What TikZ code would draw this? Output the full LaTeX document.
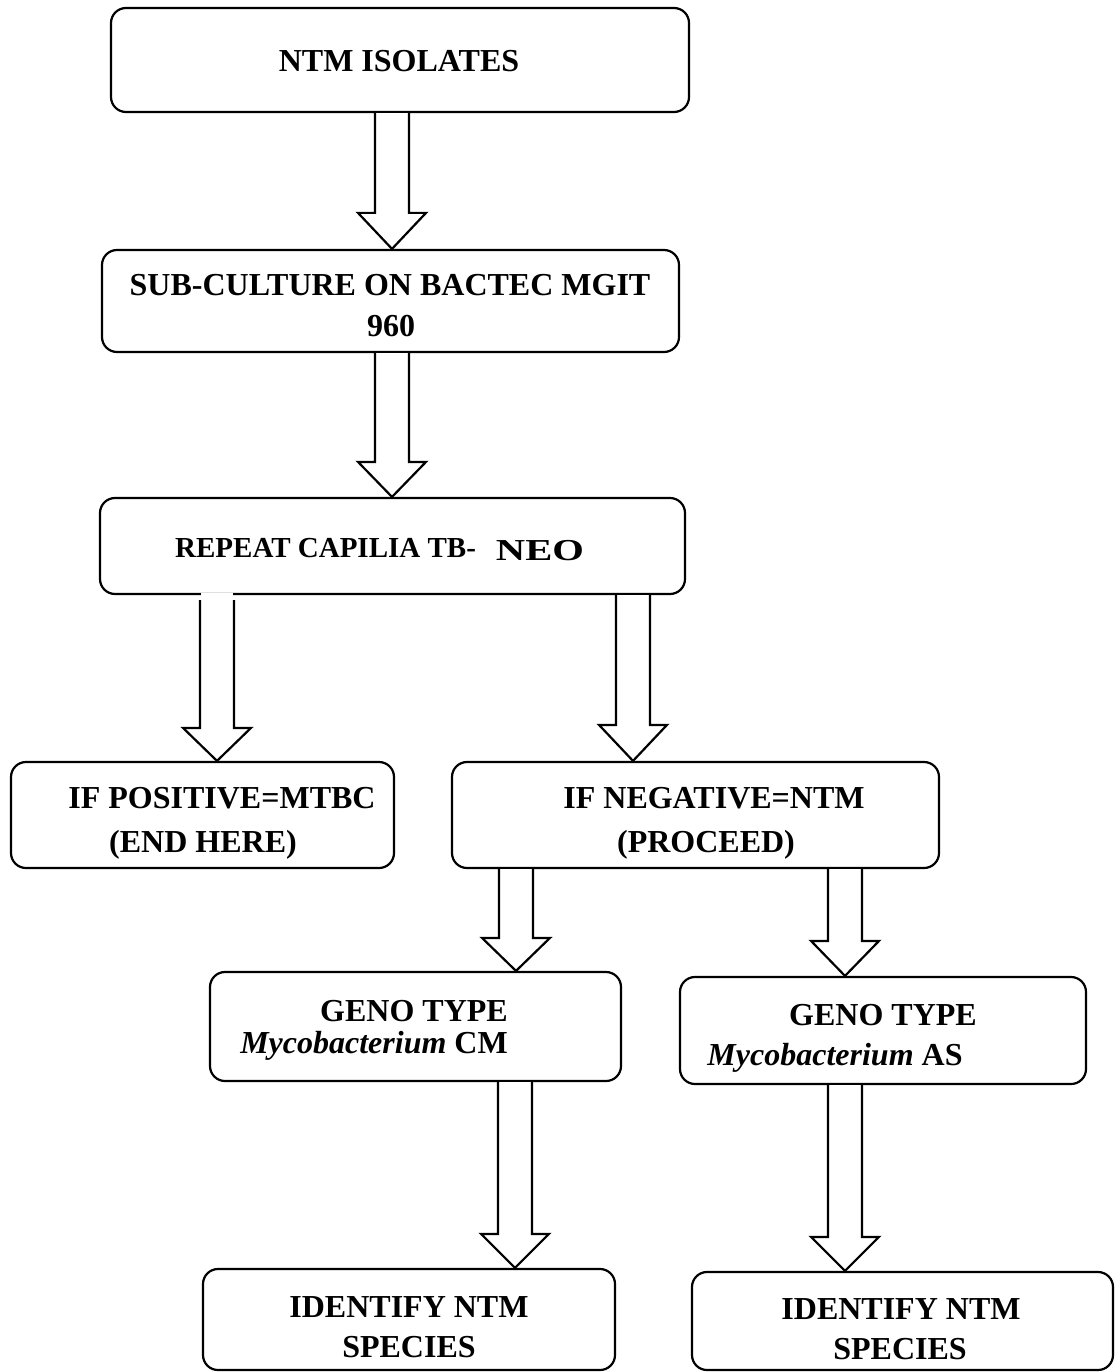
\documentclass[tikz,border=0pt]{standalone}
\usepackage{fontspec}
\setmainfont{Liberation Serif}
\usetikzlibrary{calc}
\tikzset{
  box/.style={draw=black, line width=2.2pt, rounded corners=15pt, inner sep=0pt, fill=white},
  lbl/.style={inner sep=0pt, anchor=base, font=\fontsize{32}{38}\selectfont\bfseries},
  arr/.style={draw=black, line width=2.2pt, fill=white, line join=miter}
}
% #1 x, #2 from node, #3 to node, #4 head length, #5 start offset below source
\newcommand\barrow[5]{%
  \coordinate (ax) at (#1,0);
  \draw[arr] ($(#2.south -| ax)+(-17,#5)$) -- ($(#3.north -| ax)+(-17,-#4)$) -- ($(#3.north -| ax)+(-34,-#4)$) -- (#3.north -| ax) -- ($(#3.north -| ax)+(34,-#4)$) -- ($(#3.north -| ax)+(17,-#4)$) -- ($(#2.south -| ax)+(17,#5)$);}
\begin{document}
\begin{tikzpicture}[x=1pt,y=-1pt]
\useasboundingbox (0,0) rectangle (1118,1372);
% boxes
\node[box, minimum width=578pt, minimum height=104pt] (b1) at (400,60) {};
\node[box, minimum width=577pt, minimum height=102pt] (b2) at (390.5,301) {};
\node[box, minimum width=585pt, minimum height=96pt] (b3) at (392.5,546) {};
\node[box, minimum width=383pt, minimum height=106pt] (b4) at (202.5,815) {};
\node[box, minimum width=487pt, minimum height=106pt] (b5) at (695.5,815) {};
\node[box, minimum width=411pt, minimum height=109pt] (b6) at (415.5,1026.5) {};
\node[box, minimum width=406pt, minimum height=107pt] (b7) at (883,1030.5) {};
\node[box, minimum width=412pt, minimum height=101pt] (b8) at (409,1319.5) {};
\node[box, minimum width=421pt, minimum height=98pt] (b9) at (902.5,1321) {};
% small gap in the bottom line of b3 above the left arrow
\fill[white] ($(b3.south -| 217,0)+(-16,-2)$) rectangle ($(b3.south -| 217,0)+(16,2)$);
% arrows
\barrow{392}{b1}{b2}{36}{0}
\barrow{392}{b2}{b3}{35}{0}
\barrow{217}{b3}{b4}{33}{5}
\barrow{633}{b3}{b5}{36}{0}
\barrow{516}{b5}{b6}{33}{0}
\barrow{845}{b5}{b7}{35}{0}
\barrow{515}{b6}{b8}{34}{0}
\barrow{845}{b7}{b9}{34}{0}
% texts
\node[lbl] (t1) at (399,72) {NTM ISOLATES};
\node[lbl] (t2a) at (390,295) {SUB-CULTURE ON BACTEC MGIT};
\node[lbl] (t2b) at (391,336) {960};
\node[lbl, anchor=base west] (t3) at (175,557) {\fontsize{29}{34}\selectfont REPEAT CAPILIA TB-\hspace{20pt}\raisebox{-3pt}{\scalebox{1.4}[1.05]{NEO}}};
\node[lbl] (t4a) at (222,808) {IF POSITIVE=MTBC};
\node[lbl] (t4b) at (203,852) {(END HERE)};
\node[lbl] (t5a) at (714,808) {IF NEGATIVE=NTM};
\node[lbl] (t5b) at (706,852) {(PROCEED)};
\node[lbl] (t6a) at (414,1021) {GENO TYPE};
\node[lbl] (t6b) at (374,1053) {\textit{Mycobacterium} CM};
\node[lbl] (t7a) at (883,1025) {GENO TYPE};
\node[lbl] (t7b) at (835,1065) {\textit{Mycobacterium} AS};
\node[lbl] (t8a) at (409,1317) {IDENTIFY NTM};
\node[lbl] (t8b) at (409,1357) {SPECIES};
\node[lbl] (t9a) at (901,1319) {IDENTIFY NTM};
\node[lbl] (t9b) at (900,1359) {SPECIES};
\end{tikzpicture}
\end{document}
